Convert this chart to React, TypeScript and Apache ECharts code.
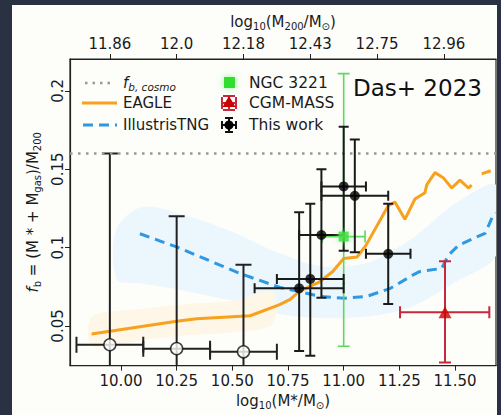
import React, { useEffect, useRef } from "react";
import * as echarts from "echarts";

// ---- axes ----
const X_MIN = 9.771;
const X_MAX = 11.684;
const Y_MIN = 0.0247;
const Y_MAX = 0.2203;
const bottomTicks = [10.0, 10.25, 10.5, 10.75, 11.0, 11.25, 11.5];
const topTickPos = [9.95, 10.25, 10.55, 10.85, 11.15, 11.45];
const topTickLabels = ["11.86", "12.0", "12.18", "12.43", "12.75", "12.96"];
const yTicks = [0.05, 0.1, 0.15, 0.2];
const fbCosmo = 0.158;

// ---- EAGLE ----
const eagleX = [9.868, 10.25, 10.34, 10.58, 10.71, 10.76, 10.8, 10.89, 10.95, 11.0, 11.06, 11.1, 11.2, 11.23, 11.275, 11.32, 11.365, 11.373, 11.41, 11.447, 11.485, 11.522, 11.56, 11.575, 11.6, 11.62, 11.66];
const eagleY = [0.0449, 0.053, 0.0546, 0.0565, 0.0635, 0.067, 0.072, 0.078, 0.0846, 0.093, 0.094, 0.1014, 0.1267, 0.129, 0.118, 0.131, 0.135, 0.14, 0.1478, 0.1446, 0.138, 0.143, 0.138, 0.1398, null, 0.147, 0.149];

// ---- IllustrisTNG ----
const tngX = [10.085, 10.25, 10.534, 10.714, 10.8, 10.894, 11.006, 11.103, 11.21, 11.31, 11.34, 11.44, 11.47, 11.515, 11.597, 11.635, 11.67, 11.684];
const tngY = [0.1088, 0.1004, 0.0835, 0.0745, 0.072, 0.0688, 0.0677, 0.0688, 0.074, 0.0824, 0.0846, 0.0867, 0.095, 0.1014, 0.1067, 0.109, 0.1203, 0.122];

// ---- shaded bands ----
const blueBandX = [9.98, 10.1, 10.3, 10.5, 10.7, 10.9, 11.1, 11.3, 11.5, 11.684];
const blueBandLo = [0.08, 0.077, 0.072, 0.066, 0.058, 0.055, 0.056, 0.062, 0.078, 0.095];
const blueBandHi = [0.112, 0.126, 0.12, 0.11, 0.097, 0.088, 0.09, 0.105, 0.128, 0.14];
const orangeBandX = [9.87, 10.1, 10.3, 10.5, 10.68];
const orangeBandLo = [0.037, 0.041, 0.044, 0.046, 0.051];
const orangeBandHi = [0.056, 0.061, 0.064, 0.066, 0.072];

// ---- This work (filled) ----
const workX = [11.0, 11.05, 10.9, 11.2, 10.85, 10.8];
const workY = [0.139, 0.133, 0.108, 0.096, 0.08, 0.074];
const workXLo = [10.9, 10.9, 10.8, 11.1, 10.7, 10.6];
const workXHi = [11.1, 11.2, 11.0, 11.3, 11.0, 11.0];
const workYLo = [0.098, 0.097, 0.068, 0.064, 0.031, 0.034];
const workYHi = [0.177, 0.169, 0.15, 0.128, 0.128, 0.1225];

// ---- This work (open) ----
const openX = [9.95, 10.25, 10.55];
const openY = [0.038, 0.0355, 0.0335];
const openXLo = [9.8, 10.1, 10.4];
const openXHi = [10.1, 10.4, 10.7];
const openYLo = [0.0, 0.0, 0.0];
const openYHi = [0.16, 0.12, 0.089];

// ---- NGC 3221 ----
const ngcX = [11.0];
const ngcY = [0.107];
const ngcXLo = [10.904];
const ngcXHi = [11.096];
const ngcYLo = [0.037];
const ngcYHi = [0.211];

// ---- CGM-MASS ----
const cgmX = [11.455];
const cgmY = [0.0587];
const cgmXLo = [11.253];
const cgmXHi = [11.654];
const cgmYLo = [0.0266];
const cgmYHi = [0.0913];

const FONT = "DejaVu Sans";
const TXT = "#1a1a1a";

const rich = {
  s: { fontSize: 10, fontFamily: FONT, color: TXT, padding: [8, 0, 0, 0] },
  i: { fontSize: 15, fontFamily: FONT, color: TXT, fontStyle: "italic" },
  si: { fontSize: 10.5, fontFamily: FONT, color: TXT, fontStyle: "italic", padding: [8, 0, 0, 0] },
};

function errData(x: number[], y: number[], xl: number[], xh: number[], yl: number[], yh: number[]) {
  return x.map((v, i) => [v, y[i], xl[i], xh[i], yl[i], yh[i]]);
}

function errRender(cap: number, color: string, width: number) {
  return (params: any, api: any) => {
    const cs = params.coordSys;
    const top = cs.y;
    const bot = cs.y + cs.height;
    const x = api.value(0), y = api.value(1);
    const c = api.coord([x, y]);
    const pl = api.coord([api.value(2), y]);
    const ph = api.coord([api.value(3), y]);
    const pb = api.coord([x, api.value(4)]);
    const pt = api.coord([x, api.value(5)]);
    const style = { stroke: color, lineWidth: width };
    const bClipped = pb[1] > bot;
    const by = Math.min(pb[1], bot);
    const ty = Math.max(pt[1], top);
    const children: any[] = [
      { type: "line", shape: { x1: pl[0], y1: c[1], x2: ph[0], y2: c[1] }, style },
      { type: "line", shape: { x1: pl[0], y1: c[1] - cap, x2: pl[0], y2: c[1] + cap }, style },
      { type: "line", shape: { x1: ph[0], y1: c[1] - cap, x2: ph[0], y2: c[1] + cap }, style },
      { type: "line", shape: { x1: c[0], y1: ty, x2: c[0], y2: by }, style },
      { type: "line", shape: { x1: c[0] - cap, y1: pt[1], x2: c[0] + cap, y2: pt[1] }, style },
    ];
    if (!bClipped) {
      children.push({ type: "line", shape: { x1: c[0] - cap, y1: pb[1], x2: c[0] + cap, y2: pb[1] }, style });
    }
    return { type: "group", children };
  };
}

function bandRender(xs: number[], lo: number[], hi: number[], fill: string) {
  return (params: any, api: any) => {
    const upper = xs.map((x, i) => api.coord([x, hi[i]]));
    const lower = xs.map((x, i) => api.coord([x, lo[i]])).reverse();
    return {
      type: "polygon",
      shape: { points: [...upper, ...lower], smooth: 0.3 },
      style: { fill },
    };
  };
}

export default function App() {
  const ref = useRef<HTMLDivElement>(null);
  useEffect(() => {
    if (!ref.current) return;
    const chart = echarts.init(ref.current, null, { renderer: "svg" });
    const lineOpt = (y: number, x1: number, x2: number, stroke: string, lw: number, dash?: number[]) => ({
      type: "line",
      shape: { x1, y1: y, x2, y2: y },
      style: { stroke, lineWidth: lw, lineDash: dash },
    });
    const legendText = (x: number, y: number, text: string, size = 15) => ({
      type: "text",
      x,
      y,
      style: { text, rich, fontSize: size, fontFamily: FONT, fill: TXT, verticalAlign: "middle" },
    });
    const errIcon = (cx: number, cy: number, hw: number, hh: number, cap: number, stroke: string) => [
      lineOpt(cy, cx - hw, cx + hw, stroke, 2),
      { type: "line", shape: { x1: cx - hw, y1: cy - cap, x2: cx - hw, y2: cy + cap }, style: { stroke, lineWidth: 2 } },
      { type: "line", shape: { x1: cx + hw, y1: cy - cap, x2: cx + hw, y2: cy + cap }, style: { stroke, lineWidth: 2 } },
      { type: "line", shape: { x1: cx, y1: cy - hh, x2: cx, y2: cy + hh }, style: { stroke, lineWidth: 2 } },
      { type: "line", shape: { x1: cx - cap, y1: cy - hh, x2: cx + cap, y2: cy - hh }, style: { stroke, lineWidth: 2 } },
      { type: "line", shape: { x1: cx - cap, y1: cy + hh, x2: cx + cap, y2: cy + hh }, style: { stroke, lineWidth: 2 } },
    ];
    const MX = 229;
    const TX = 249;

    const option: any = {
      animation: false,
      backgroundColor: "#2a3143",
      textStyle: { fontFamily: FONT, color: TXT },
      grid: { left: 70, right: 5, top: 59, bottom: 47, show: true, borderColor: "#222", borderWidth: 1.2, backgroundColor: "transparent" },
      graphic: [
        { type: "rect", z: -10, shape: { x: 12, y: 5, width: 485, height: 415 }, style: { fill: "#fdfdfa" } },
        lineOpt(83, 85, 115, "#999", 2.5, [2.5, 5]),
        legendText(123, 83, "{i|f}{si|b, cosmo}"),
        lineOpt(103, 82, 117, "#f8a11c", 3),
        legendText(123, 103, "EAGLE"),
        lineOpt(125, 83, 117, "#2e98e2", 3, [10, 6]),
        legendText(123, 125, "IllustrisTNG"),
        { type: "rect", shape: { x: MX - 5, y: 77, width: 11, height: 11 }, style: { fill: "#33dd33", shadowBlur: 6, shadowColor: "#88ff88" } },
        legendText(TX, 83, "NGC 3221", 15.5),
        ...errIcon(MX, 103, 7, 7, 6, "#c8283c"),
        { type: "polygon", shape: { points: [[MX, 96], [MX + 6.5, 107], [MX - 6.5, 107]] }, style: { fill: "#cc0000" } },
        legendText(TX, 103, "CGM-MASS", 15.5),
        ...errIcon(MX, 125, 7, 7, 4, "#111"),
        { type: "circle", shape: { cx: MX, cy: 125, r: 4.5 }, style: { fill: "#000" } },
        legendText(TX, 125, "This work", 15.5),
        { type: "text", x: 353, y: 88, style: { text: "Das+ 2023", fontSize: 23, fontFamily: FONT, fill: "#111", verticalAlign: "middle" } },
      ],
      xAxis: [
        {
          type: "value",
          min: X_MIN,
          max: X_MAX,
          position: "bottom",
          axisLine: { show: true, lineStyle: { color: "#222", width: 1.2 } },
          axisTick: { show: true, length: 5, customValues: bottomTicks, lineStyle: { color: "#222" } },
          axisLabel: { customValues: bottomTicks, margin: 8, fontSize: 15, color: TXT, fontFamily: FONT, formatter: (v: number) => v.toFixed(2) },
          splitLine: { show: false },
          name: "log{s|10}(M*/M{s|⊙})",
          nameLocation: "middle",
          nameGap: 26,
          nameTextStyle: { fontSize: 15, color: TXT, fontFamily: FONT, rich },
        },
        {
          type: "value",
          min: X_MIN,
          max: X_MAX,
          position: "top",
          axisLine: { show: true, lineStyle: { color: "#222", width: 1.2 } },
          axisTick: { show: true, length: 5, customValues: topTickPos, lineStyle: { color: "#222" } },
          axisLabel: {
            customValues: topTickPos,
            margin: 8,
            fontSize: 15,
            color: TXT,
            fontFamily: FONT,
            formatter: (v: number) => {
              let best = 0;
              topTickPos.forEach((p, i) => {
                if (Math.abs(p - v) < Math.abs(topTickPos[best] - v)) best = i;
              });
              return topTickLabels[best];
            },
          },
          splitLine: { show: false },
          name: "log{s|10}(M{s|200}/M{s|⊙})",
          nameLocation: "middle",
          nameGap: 22,
          nameTextStyle: { fontSize: 15, color: TXT, fontFamily: FONT, rich },
        },
      ],
      yAxis: {
        type: "value",
        min: Y_MIN,
        max: Y_MAX,
        axisLine: { show: true, lineStyle: { color: "#222", width: 1.2 } },
        axisTick: { show: true, length: 5, customValues: yTicks, lineStyle: { color: "#222" } },
        axisLabel: { customValues: yTicks, rotate: 90, margin: 5, fontSize: 15, color: TXT, fontFamily: FONT, formatter: (v: number) => String(v) },
        splitLine: { show: false },
        name: "{i|f}{s|b} = (M * + M{s|gas})/M{s|200}",
        nameLocation: "middle",
        nameGap: 15,
        nameTextStyle: { fontSize: 15, color: TXT, fontFamily: FONT, rich },
      },
      series: [
        {
          type: "custom",
          name: "tngBand",
          z: 1,
          silent: true,
          clip: true,
          data: [[blueBandX[0], blueBandLo[0]]],
          renderItem: bandRender(blueBandX, blueBandLo, blueBandHi, "#ebf6fd"),
        },
        {
          type: "custom",
          name: "eagleBand",
          z: 1,
          silent: true,
          clip: true,
          data: [[orangeBandX[0], orangeBandLo[0]]],
          renderItem: bandRender(orangeBandX, orangeBandLo, orangeBandHi, "#fef7e8"),
        },
        {
          type: "line",
          name: "fb,cosmo",
          data: [],
          z: 2,
          markLine: {
            silent: true,
            symbol: "none",
            label: { show: false },
            lineStyle: { color: "#999", width: 2.5, type: [2.5, 5.5] },
            data: [{ yAxis: fbCosmo }],
          },
        },
        {
          type: "line",
          name: "EAGLE",
          z: 3,
          showSymbol: false,
          connectNulls: false,
          data: eagleX.map((x, i) => [x, eagleY[i] === null ? "-" : eagleY[i]]),
          lineStyle: { color: "#f8a11c", width: 3 },
          itemStyle: { color: "#f8a11c" },
        },
        {
          type: "line",
          name: "IllustrisTNG",
          z: 3,
          showSymbol: false,
          data: tngX.map((x, i) => [x, tngY[i]]),
          lineStyle: { color: "#2e98e2", width: 3, type: [10, 6] },
          itemStyle: { color: "#2e98e2" },
        },
        {
          type: "custom",
          name: "ngcErr",
          z: 4,
          clip: true,
          data: errData(ngcX, ngcY, ngcXLo, ngcXHi, ngcYLo, ngcYHi),
          renderItem: errRender(6, "#5ed85e", 1.6),
        },
        {
          type: "custom",
          name: "cgmErr",
          z: 4,
          clip: true,
          data: errData(cgmX, cgmY, cgmXLo, cgmXHi, cgmYLo, cgmYHi),
          renderItem: errRender(6, "#c8283c", 2),
        },
        {
          type: "custom",
          name: "openErr",
          z: 4,
          clip: true,
          data: errData(openX, openY, openXLo, openXHi, openYLo, openYHi),
          renderItem: errRender(8, "#222", 2),
        },
        {
          type: "custom",
          name: "workErr",
          z: 5,
          clip: true,
          data: errData(workX, workY, workXLo, workXHi, workYLo, workYHi),
          renderItem: errRender(5, "#1a1a1a", 2),
        },
        {
          type: "scatter",
          name: "NGC 3221",
          z: 6,
          symbol: "rect",
          symbolSize: 10,
          data: ngcX.map((x, i) => [x, ngcY[i]]),
          itemStyle: { color: "#33dd33", shadowBlur: 6, shadowColor: "#88ff88" },
        },
        {
          type: "scatter",
          name: "CGM-MASS",
          z: 6,
          symbol: "triangle",
          symbolSize: [13, 12],
          data: cgmX.map((x, i) => [x, cgmY[i]]),
          itemStyle: { color: "#cc0000" },
        },
        {
          type: "scatter",
          name: "open",
          z: 6,
          symbol: "circle",
          symbolSize: 12,
          data: openX.map((x, i) => [x, openY[i]]),
          itemStyle: { color: "#ffffff", borderColor: "#111", borderWidth: 1.5 },
        },
        {
          type: "scatter",
          name: "This work",
          z: 7,
          symbol: "circle",
          symbolSize: 10,
          data: workX.map((x, i) => [x, workY[i]]),
          itemStyle: { color: "#000" },
        },
      ],
    };
    chart.setOption(option);
    return () => chart.dispose();
  }, []);
  return <div ref={ref} style={{ position: "fixed", left: 0, top: 0, width: 501, height: 415 }} />;
}
